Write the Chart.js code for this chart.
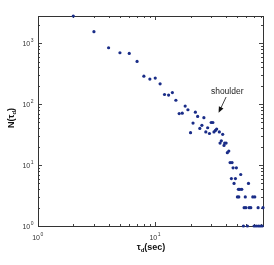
<!DOCTYPE html>
<html><head><meta charset="utf-8">
<script src="https://cdn.jsdelivr.net/npm/chart.js@4/dist/chart.umd.min.js"></script>
<style>html,body{margin:0;padding:0;background:#fff;overflow:hidden}</style>
</head><body>
<canvas id="c" width="274" height="265" style="width:274px;height:265px;display:block"></canvas>
<script>
// ---- data ----
const tauSec = [2,3,4,5,6,7,8,9,10,11,12,13,14,15,16,17,18,19,20,21,22,23,24,25,26,27,28,29,30,31,
  31.7,32.6,33.4,35.2,35.7,36.6,37.6,38.6,39.1,40.2,41.2,42.4,43.5,44.6,45.2,46.1,47,48.3,49.2,
  50.2,51.2,51.6,52.6,53.6,54.7,56.5,57.3,58.6,59.3,61.1,62.4,63.2,65.3,67.9,69.7,70.6,72.5,75.4,75.6,78.5,81.6,83];
const countN = [2800,1550,844,698,680,503,288,258,268,216,144,141,155,116,70,71,93,81,34,49,74,63,40,45,60,35,41,33,50,50,
  35,37,39,35,23,25,32,21,23,23,16,17,11,6,11,9,5,6,9,
  3,4,3,4,7,4,1,2,3,2,1,5,2,2,3,1,3,1,2,1,1,1,2];
const xRange = [1, 83];
const yRange = [1, 2800];
const xMajor = [1, 10];
const yMajor = [1, 10, 100, 1000];
const xTickExp = ['0', '1'];
const yTickExp = ['0', '1', '2', '3'];
const xTitle = ['\u03C4', 'd', '(sec)'];
const yTitle = ['N(\u03C4', 'd', ')'];
const noteText = 'shoulder';
const noteAnchor = [41.1, 145];     // data coords of label
const arrowTail = [40.2, 131];
const arrowTip = [34.7, 72];

const FONT = '"Liberation Sans", Arial, Helvetica, sans-serif';

function minorList(maxV, decades){
  const out = [];
  decades.forEach(d => { for (let m = 1; m <= 9; m++){ const v = m*d; if (v <= maxV) out.push(v); } });
  return out;
}

const deco = {
  id: 'deco',
  beforeDatasetsDraw(chart){
    const ctx = chart.ctx, a = chart.chartArea, xs = chart.scales.x, ys = chart.scales.y;
    ctx.save();
    ctx.strokeStyle = '#444'; ctx.lineWidth = 1;
    // ticks (inward, all four sides)
    const xt = minorList(xRange[1], [1,10]);
    xt.forEach(v => {
      const major = xMajor.includes(v); const len = major ? 4 : 2;
      const p = Math.round(xs.getPixelForValue(v)) + 0.5;
      ctx.beginPath();
      ctx.moveTo(p, a.bottom); ctx.lineTo(p, a.bottom - len);
      ctx.moveTo(p, a.top); ctx.lineTo(p, a.top + len);
      ctx.stroke();
    });
    const yt = minorList(yRange[1], [1,10,100,1000]);
    yt.forEach(v => {
      const major = yMajor.includes(v); const len = major ? 4 : 2;
      const p = Math.round(ys.getPixelForValue(v)) + 0.5;
      ctx.beginPath();
      ctx.moveTo(a.left, p); ctx.lineTo(a.left + len, p);
      ctx.moveTo(a.right, p); ctx.lineTo(a.right - len, p);
      ctx.stroke();
    });
    // frame
    ctx.strokeStyle = '#333';
    ctx.strokeRect(Math.round(a.left)+0.5, Math.round(a.top)+0.5, Math.round(a.right-a.left), Math.round(a.bottom-a.top));
    ctx.restore();
  },
  afterDraw(chart){
    const ctx = chart.ctx, a = chart.chartArea, xs = chart.scales.x, ys = chart.scales.y;
    ctx.save();
    ctx.fillStyle = '#333';
    ctx.textBaseline = 'alphabetic';
    const big = '7px ' + FONT, small = '5px ' + FONT;
    // x tick labels
    xMajor.forEach((v, i) => {
      const p = xs.getPixelForValue(v);
      ctx.font = big; const w1 = ctx.measureText('10').width;
      ctx.font = small; const w2 = ctx.measureText(xTickExp[i]).width;
      const x0 = p - (w1 + w2) / 2 - 0.5;
      ctx.font = big; ctx.textAlign = 'left'; ctx.fillText('10', x0, a.bottom + 13.5);
      ctx.font = small; ctx.fillText(xTickExp[i], x0 + w1 + 0.5, a.bottom + 10);
    });
    // y tick labels
    yMajor.forEach((v, i) => {
      const p = ys.getPixelForValue(v);
      ctx.font = small; const w2 = ctx.measureText(yTickExp[i]).width;
      ctx.font = big; const w1 = ctx.measureText('10').width;
      const xr = a.left - 4.5;
      ctx.textAlign = 'left';
      ctx.fillText('10', xr - w2 - w1 - 0.5, p + 2.5);
      ctx.font = small; ctx.fillText(yTickExp[i], xr - w2, p - 1);
    });
    // titles (bold, with subscript)
    ctx.fillStyle = '#111';
    const tb = 'bold 9px ' + FONT, ts = 'bold 6px ' + FONT;
    function titleWidths(parts){
      ctx.font = tb; const w0 = ctx.measureText(parts[0]).width;
      ctx.font = ts; const w1 = ctx.measureText(parts[1]).width;
      ctx.font = tb; const w2 = ctx.measureText(parts[2]).width;
      return [w0, w1, w2];
    }
    function drawTitle(parts, cx, base){
      const w = titleWidths(parts); const tot = w[0] + w[1] + w[2];
      let x = cx - tot / 2;
      ctx.textAlign = 'left';
      ctx.font = tb; ctx.fillText(parts[0], x, base); x += w[0];
      ctx.font = ts; ctx.fillText(parts[1], x, base + 2.5); x += w[1];
      ctx.font = tb; ctx.fillText(parts[2], x, base);
    }
    drawTitle(xTitle, (a.left + a.right) / 2 + 0.5, 249.5);
    ctx.save();
    ctx.translate(13.5, 118);
    ctx.rotate(-Math.PI / 2);
    drawTitle(yTitle, 0, 0);
    ctx.restore();
    // annotation
    ctx.fillStyle = '#222';
    ctx.font = '8.5px ' + FONT; ctx.textAlign = 'center';
    ctx.fillText(noteText, xs.getPixelForValue(noteAnchor[0]), ys.getPixelForValue(noteAnchor[1]));
    const tx = xs.getPixelForValue(arrowTail[0]), ty = ys.getPixelForValue(arrowTail[1]);
    const hx = xs.getPixelForValue(arrowTip[0]), hy = ys.getPixelForValue(arrowTip[1]);
    const ang = Math.atan2(hy - ty, hx - tx);
    ctx.strokeStyle = '#111'; ctx.lineWidth = 0.8;
    ctx.beginPath(); ctx.moveTo(tx, ty); ctx.lineTo(hx - 4*Math.cos(ang), hy - 4*Math.sin(ang)); ctx.stroke();
    ctx.fillStyle = '#111';
    ctx.beginPath();
    ctx.moveTo(hx, hy);
    ctx.lineTo(hx - 6*Math.cos(ang) + 2.5*Math.sin(ang), hy - 6*Math.sin(ang) - 2.5*Math.cos(ang));
    ctx.lineTo(hx - 6*Math.cos(ang) - 2.5*Math.sin(ang), hy - 6*Math.sin(ang) + 2.5*Math.cos(ang));
    ctx.closePath(); ctx.fill();
    ctx.restore();
  }
};

const points = tauSec.map((t, i) => ({ x: t, y: countN[i] }));

new Chart(document.getElementById('c'), {
  type: 'scatter',
  data: { datasets: [{
    data: points,
    backgroundColor: '#1a2d88',
    borderWidth: 0,
    pointRadius: 1.6,
    pointHoverRadius: 1.6,
    clip: false
  }]},
  options: {
    responsive: false,
    animation: false,
    devicePixelRatio: 1,
    layout: { padding: { left: 38, top: 16, right: 11, bottom: 39 } },
    plugins: { legend: { display: false }, tooltip: { enabled: false } },
    events: [],
    scales: {
      x: { type: 'logarithmic', min: xRange[0], max: xRange[1], display: false },
      y: { type: 'logarithmic', min: yRange[0], max: yRange[1], display: false }
    }
  },
  plugins: [deco]
});
</script>
</body></html>
